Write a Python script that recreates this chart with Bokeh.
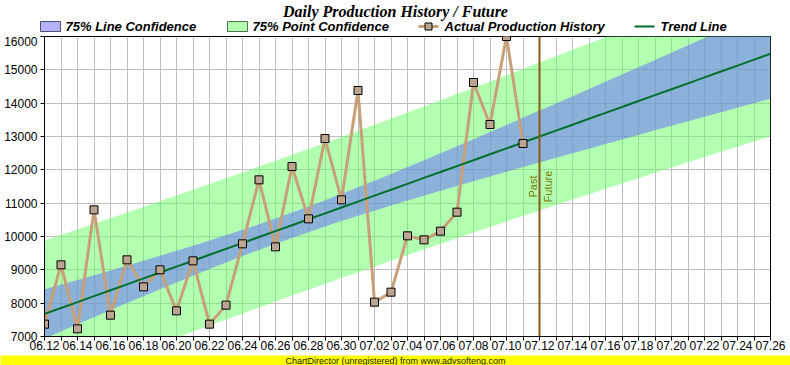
import numpy as np
from bokeh.plotting import figure
from bokeh.models import Range1d, FixedTicker, Span, Label
from bokeh.layouts import column
from bokeh.embed import file_html
from bokeh.resources import INLINE

# ---------------- data ----------------
day_labels = ["06.12", "06.13", "06.14", "06.15", "06.16", "06.17", "06.18", "06.19",
              "06.20", "06.21", "06.22", "06.23", "06.24", "06.25", "06.26", "06.27",
              "06.28", "06.29", "06.30", "07.01", "07.02", "07.03", "07.04", "07.05",
              "07.06", "07.07", "07.08", "07.09", "07.10", "07.11", "07.12", "07.13",
              "07.14", "07.15", "07.16", "07.17", "07.18", "07.19", "07.20", "07.21",
              "07.22", "07.23", "07.24", "07.25", "07.26"]
x_tick_labels = ["06.12", "06.14", "06.16", "06.18", "06.20", "06.22", "06.24", "06.26",
                 "06.28", "06.30", "07.02", "07.04", "07.06", "07.08", "07.10", "07.12",
                 "07.14", "07.16", "07.18", "07.20", "07.22", "07.24", "07.26"]
history_days = day_labels[:30]
production = [7370, 9150, 7230, 10800, 7640, 9300, 8490, 9000, 7770, 9270,
              7370, 7940, 9780, 11700, 9690, 12100, 10530, 12940, 11100, 14380,
              8030, 8330, 10020, 9900, 10160, 10730, 14620, 13360, 16000, 12790]
y_ticks = [7000, 8000, 9000, 10000, 11000, 12000, 13000, 14000, 15000, 16000]
t_value = 1.16           # two-sided 75% multiplier
mark_day = "07.12"
legend_labels = ["75% Line Confidence", "75% Point Confidence",
                 "Actual Production History", "Trend Line"]

# ---------------- regression (trend + bands) ----------------
x_hist = np.array([day_labels.index(d) for d in history_days], dtype=float)
y_hist = np.array(production, dtype=float)
n = len(x_hist)
slope, intercept = np.polyfit(x_hist, y_hist, 1)
resid = y_hist - (slope * x_hist + intercept)
s = np.sqrt(np.sum(resid ** 2) / (n - 2))
xbar = x_hist.mean()
sxx = np.sum((x_hist - xbar) ** 2)
x_all = np.arange(len(day_labels), dtype=float)
fit = slope * x_all + intercept
hw_line = t_value * s * np.sqrt(1.0 / n + (x_all - xbar) ** 2 / sxx)
hw_point = t_value * s * np.sqrt(1.0 + 1.0 / n + (x_all - xbar) ** 2 / sxx)

# ---------------- styles ----------------
FONT = "Liberation Sans"
W = 790
HEAD_H, MAIN_H, BAN_H = 36, 318, 11
ML, MR, MB = 44, 20, 18
C_LINEBAND = "#6666ff"
C_PTBAND = "#66ff66"
C_HIST = "#c8a078"
C_MARKER = "#bca58e"
C_TREND = "#00702c"

# ---------------- header: title + legend ----------------
h = figure(width=W, height=HEAD_H, output_backend="svg", toolbar_location=None,
           x_range=Range1d(0, W), y_range=Range1d(HEAD_H, 0),
           x_axis_location=None, y_axis_location=None, min_border=0,
           background_fill_color="white", border_fill_color="white")
h.frame_align = False
h.title.visible = False
h.outline_line_color = None
h.grid.visible = False
h.add_layout(Label(x=W / 2, y=11, text="Daily Production History / Future",
                   text_align="center", text_baseline="middle",
                   text_font="Liberation Serif", text_font_style="bold italic",
                   text_font_size="16px", text_color="black"))
ly = 26
h.quad(left=[40], right=[60], top=[ly - 5], bottom=[ly + 5], fill_color=C_LINEBAND,
       fill_alpha=0.5, line_color="#505070", line_width=1)
h.quad(left=[227], right=[247], top=[ly - 5], bottom=[ly + 5], fill_color=C_PTBAND,
       fill_alpha=0.5, line_color="#507050", line_width=1)
h.line([418, 438], [ly, ly], line_color=C_HIST, line_width=3)
h.scatter([428], [ly], marker="square", size=7, fill_color=C_MARKER,
          line_color="black", line_width=1)
h.line([634, 654], [ly, ly], line_color=C_TREND, line_width=2)
for lx, txt in zip([65, 252, 444, 660], legend_labels):
    h.add_layout(Label(x=lx, y=ly, text=txt, text_align="left", text_baseline="middle",
                       text_font=FONT, text_font_style="bold italic",
                       text_font_size="13px", text_color="black"))

# ---------------- main plot ----------------
p = figure(width=W, height=MAIN_H, output_backend="svg", toolbar_location=None,
           x_range=Range1d(0, len(day_labels) - 1),
           y_range=Range1d(y_ticks[0], y_ticks[-1]),
           min_border_left=ML, min_border_right=MR, min_border_top=0, min_border_bottom=MB,
           background_fill_color="white", border_fill_color="white")
p.frame_align = False
p.title.visible = False
p.outline_line_color = "black"
p.outline_line_alpha = 1.0

p.varea(x=x_all, y1=fit - hw_point, y2=fit + hw_point, fill_color=C_PTBAND, fill_alpha=0.5)
p.varea(x=x_all, y1=fit - hw_line, y2=fit + hw_line, fill_color=C_LINEBAND, fill_alpha=0.5)
p.line(x_hist, y_hist, line_color=C_HIST, line_width=3)
p.line(x_all, fit, line_color=C_TREND, line_width=2)
p.scatter(x_hist, y_hist, marker="square", size=8, fill_color=C_MARKER,
          line_color="black", line_width=1)

mark_x = day_labels.index(mark_day)
p.add_layout(Span(location=mark_x, dimension="height", line_color="#8a5a14", line_width=2))
mid_y = (y_ticks[0] + y_ticks[-1]) / 2
p.add_layout(Label(x=mark_x, y=mid_y, text="Past", angle=np.pi / 2, text_align="center",
                   text_baseline="bottom", x_offset=-1, text_font=FONT,
                   text_font_size="11px", text_color="#7a7a00"))
p.add_layout(Label(x=mark_x, y=mid_y, text="Future", angle=np.pi / 2, text_align="center",
                   text_baseline="top", x_offset=2, text_font=FONT,
                   text_font_size="11px", text_color="#7a7a00"))

p.xaxis.ticker = FixedTicker(ticks=list(range(len(day_labels))))
p.xaxis.major_label_overrides = {i: (lab if lab in x_tick_labels else "")
                                 for i, lab in enumerate(day_labels)}
p.yaxis.ticker = FixedTicker(ticks=y_ticks)
for ax in (p.xaxis[0], p.yaxis[0]):
    ax.major_label_text_font = FONT
    ax.major_label_text_font_size = "12px"
    ax.major_label_text_color = "black"
    ax.major_tick_in = 0
    ax.major_tick_out = 4
    ax.minor_tick_in = 0
    ax.minor_tick_out = 0
    ax.axis_line_color = "black"
    ax.major_tick_line_color = "black"
p.xaxis.major_label_standoff = 0
p.yaxis.major_label_standoff = 3

p.xgrid.ticker = FixedTicker(ticks=list(range(len(day_labels))))
p.grid.grid_line_color = "#c0c0c0"
p.grid.grid_line_alpha = 1.0

# ---------------- banner ----------------
b = figure(width=W, height=BAN_H, output_backend="svg", toolbar_location=None,
           x_range=Range1d(0, 1), y_range=Range1d(0, 1),
           x_axis_location=None, y_axis_location=None,
           min_border=0, background_fill_color="#ffff00", border_fill_color="#ffff00")
b.frame_align = False
b.title.visible = False
b.outline_line_color = None
b.grid.visible = False
b.add_layout(Label(x=0.5, y=0.5, text="ChartDirector (unregistered) from www.advsofteng.com",
                   text_align="center", text_baseline="middle", text_font=FONT,
                   text_font_size="9px", text_color="#202000"))

layout = column(h, p, b, spacing=0)
open("out.html", "w").write(file_html(layout, INLINE))
